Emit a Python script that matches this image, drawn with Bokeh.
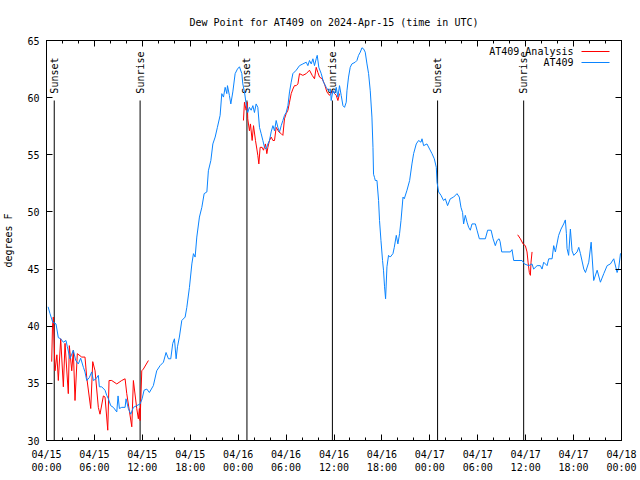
import numpy as np
from bokeh.plotting import figure
from bokeh.models import (FixedTicker, LinearAxis, Range1d, Label, Arrow,
                          ColumnDataSource, CustomJSTickFormatter)
from bokeh.core.properties import value
from bokeh.embed import file_html
from bokeh.resources import INLINE

FONT = "DejaVu Sans Mono"

# ---------------- data (hours since 2024-04-15 00:00 UTC, degrees F) -------------
at409_hours = [0.2, 0.44, 0.78, 1.19, 1.48, 1.78, 2.11, 2.44, 2.61, 2.94, 3.36, 3.66, 3.98,
               4.28, 4.62, 4.82, 5.04, 5.36, 5.66, 5.87, 6.2, 6.49, 6.62, 6.91, 7.33, 7.54,
               7.75, 8.04, 8.37, 8.8, 8.96, 9.13, 9.42, 9.84, 9.96, 10.25, 10.55, 10.88,
               11.3, 11.72, 11.97, 12.22, 12.56, 12.88,
               13.38, 13.8, 14.22, 14.64, 14.97, 15.27, 15.56, 15.81, 16.02, 16.23, 16.4,
               16.64, 16.94, 17.36, 17.57, 17.9, 18.2, 18.4, 18.61, 18.82, 19.15, 19.45,
               19.74, 20.08, 20.27, 20.58, 20.83, 21.12, 21.4, 21.74, 21.95, 22.16, 22.37,
               22.58, 22.66, 22.9, 23.08, 23.33, 23.62, 23.91, 24.16, 24.46,
               24.58, 24.79, 25.0, 25.2, 25.4, 25.63, 25.84, 26.04, 26.25, 26.46, 26.67,
               26.88, 27.09, 27.3, 27.5, 27.72, 27.92, 28.13, 28.35, 28.55, 28.76, 28.97,
               29.18, 29.39, 29.6, 29.8, 30.01, 30.23, 30.43, 30.64, 30.85, 31.27, 31.68,
               32.1, 32.52, 32.73, 32.93, 33.15, 33.36, 33.56, 33.77, 33.9, 34.1, 34.4,
               34.69, 35.03, 35.31, 35.56, 35.65, 35.86, 36.07, 36.28, 36.49, 36.69, 36.9,
               37.12, 37.32, 37.53,
               37.62, 37.82, 38.03, 38.24, 38.66, 38.87, 39.07, 39.29, 39.5, 39.7, 39.91,
               40.13, 40.33, 40.54, 40.75, 40.88, 40.95, 41.08, 41.17, 41.38, 41.58, 41.7,
               41.88, 42.08, 42.2, 42.33, 42.46, 42.63, 42.83, 43.04, 43.38, 43.55, 43.8,
               44.0, 44.21, 44.39, 44.64, 44.8, 45.14, 45.47, 45.76, 45.97, 46.3, 46.59,
               46.89, 47.02, 47.22, 47.64, 47.97,
               48.27, 48.56, 48.81, 48.9, 49.1, 49.4, 49.72, 49.94, 50.22, 50.56, 50.98,
               51.4, 51.69, 51.9, 52.1, 52.23, 52.44, 52.66, 52.86, 53.07, 53.28, 53.7,
               53.91, 54.2, 54.95, 55.24, 55.67, 55.92, 56.2, 56.42, 56.67,
               56.8, 57.0, 58.08, 58.29, 58.5, 59.55, 59.84, 60.38, 60.8, 61.0, 61.43,
               61.84, 62.05, 62.26, 62.68, 62.89, 63.31, 63.51, 63.72, 64.13, 64.43,
               64.76, 64.97, 65.1, 65.18, 65.38, 65.6, 65.81, 66.02, 66.44, 66.65, 66.86,
               67.28, 67.49, 67.9, 68.2, 68.52, 68.95, 69.36, 69.78, 70.2, 70.61, 71.03,
               71.45, 71.66, 71.87, 72.0]
at409_dewpt = [41.7, 41.1, 40.35, 40.2, 39.0, 38.9, 38.6, 38.75, 38.2, 37.15, 37.9, 37.0, 36.7,
               37.2, 36.4, 36.0, 35.25, 35.5, 36.0, 35.25, 35.4, 35.7, 34.7, 34.7, 34.4, 33.95,
               33.65, 33.05, 32.9, 32.5, 33.9, 32.8, 32.9, 32.9, 33.65, 32.8, 32.3, 32.9,
               33.05, 33.2, 33.65, 34.4, 34.5, 34.2,
               34.8, 36.1, 36.55, 36.85, 37.7, 37.15, 37.15, 38.5, 38.9, 37.15, 38.2,
               39.05, 40.5, 40.8, 41.65, 43.4, 45.45, 46.35, 46.05, 47.8, 49.55, 50.4,
               51.6, 51.75, 53.6, 54.5, 55.95, 56.55, 57.4, 58.45, 60.35, 60.05, 60.9,
               60.35, 61.05, 60.2, 59.45, 60.5, 62.1, 62.5, 62.7, 62.1,
               61.2, 60.5, 59.45, 58.7, 59.15, 58.9, 59.3, 58.7, 59.45, 59.15, 57.4,
               56.85, 56.25, 55.65, 55.5, 55.95, 56.25, 57.0, 57.55, 57.1, 58.0, 57.4,
               57.0, 57.55, 58.0, 58.45, 58.7, 59.3, 60.5, 61.35, 62.1, 62.4, 62.8,
               62.95, 63.1, 62.8, 63.25, 62.95, 63.4, 62.8, 63.4, 63.7, 62.65, 62.1,
               61.35, 60.9, 60.6, 60.75, 59.75, 60.6, 60.35, 60.9, 60.05, 61.05, 60.2,
               59.3, 59.15, 59.6,
               60.6, 61.8, 62.65, 62.95, 63.1, 63.25, 63.7, 63.98, 64.36, 64.27, 63.98,
               62.95, 62.1, 60.6, 58.3, 55.65, 53.3, 53.0, 52.75, 52.75, 51.0, 49.25,
               47.5, 45.75, 44.9, 43.45, 42.4, 45.2, 46.2, 46.05, 46.35, 46.9, 47.95,
               47.2, 48.1, 49.25, 51.3, 51.15, 51.9, 52.75, 54.2, 55.1, 55.95, 56.25,
               56.1, 56.4, 55.8, 55.95, 55.5,
               55.1, 54.65, 53.9, 52.6, 51.75, 51.45, 51.0, 51.15, 50.55, 51.15, 51.3,
               51.6, 51.3, 50.4, 49.95, 48.95, 49.7, 49.1, 48.65, 48.4, 48.95, 48.95,
               48.4, 47.65, 47.65, 48.4, 48.4, 47.65, 47.05, 47.5, 47.65,
               47.4, 46.5, 46.5, 46.7, 45.75, 45.75, 45.45, 45.3, 45.45, 45.0, 45.3,
               45.3, 45.0, 45.6, 45.3, 45.9, 45.9, 47.05, 46.5, 47.95, 48.5,
               48.95, 49.3, 48.1, 46.8, 46.2, 48.5, 46.6, 46.2, 46.5, 46.9, 46.35,
               45.0, 44.7, 45.6, 47.35, 44.0, 44.9, 43.85, 44.6, 45.3, 45.45, 45.9,
               44.7, 45.15, 46.35, 46.4]

analysis_hours_1 = [0.65, 0.75, 0.85, 1.07, 1.3, 1.48, 1.78, 2.11, 2.32, 2.73, 2.86, 3.16,
                    3.36, 3.57, 3.86, 4.41, 4.82, 5.04, 5.54, 5.79, 6.08, 6.49, 6.7, 7.12,
                    7.33, 7.67, 7.83, 8.17, 8.8, 9.42, 9.84, 10.05, 10.68, 10.88, 11.3, 11.5,
                    11.63, 11.72, 11.93, 12.13, 12.76]
analysis_dewpt_1 = [36.9, 40.0, 40.8, 36.1, 37.5, 35.25, 38.9, 34.7, 38.5, 34.1, 38.3, 36.1,
                    37.9, 33.5, 37.6, 37.3, 37.3, 35.5, 32.8, 36.9, 36.1, 32.9, 32.3, 33.9,
                    33.8, 30.9, 35.25, 35.25, 34.95, 35.25, 35.4, 34.1, 31.2, 35.25, 32.8, 31.9,
                    32.8, 31.75, 36.1, 36.25, 37.0]
analysis_hours_2 = [24.66, 24.79, 25.0, 25.13, 25.2, 25.41, 25.54, 25.75, 25.92, 26.17, 26.34,
                    26.46, 26.59, 26.75, 27.0, 27.17, 27.42, 27.59, 27.72, 27.92, 28.13, 28.35,
                    28.55, 28.76, 29.1, 29.39, 29.6, 29.8, 30.01, 30.23, 30.43, 30.64, 30.85,
                    31.05, 31.27, 31.48, 31.68, 32.1, 32.52, 32.93, 33.27, 33.56, 33.77, 33.98,
                    34.19, 34.52, 34.81, 35.11, 35.44, 35.86, 36.07, 36.28, 36.49, 36.69]
analysis_dewpt_2 = [58.0, 59.6, 58.9, 59.6, 58.15, 57.1, 57.7, 56.25, 57.55, 56.25, 55.5,
                    54.95, 54.2, 55.65, 55.65, 55.4, 55.95, 55.1, 55.65, 56.25, 56.55, 56.25,
                    56.25, 57.4, 57.0, 56.85, 56.7, 58.15, 58.6, 58.9, 59.6, 60.35, 60.75,
                    61.05, 61.05, 61.2, 62.1, 61.95, 62.1, 62.4, 61.95, 61.65, 62.65, 62.2,
                    61.8, 61.65, 61.2, 60.5, 60.2, 60.6, 60.35, 60.2, 59.75, 60.35]
analysis_hours_3 = [59.0, 59.34, 59.67, 59.96, 60.17, 60.3, 60.46, 60.59, 60.67, 60.8]
analysis_dewpt_3 = [48.0, 47.65, 47.2, 47.05, 46.5, 45.6, 44.7, 44.45, 45.6, 46.5]

sun_hours = [0.97, 11.72, 25.1, 35.8, 48.97, 59.75]
sun_names = ["Sunset", "Sunrise", "Sunset", "Sunrise", "Sunset", "Sunrise"]

series_names = ["AT409 Analysis", "AT409"]

x_ticks = [0, 6, 12, 18, 24, 30, 36, 42, 48, 54, 60, 66, 72]
x_tick_labels = ["04/15\n00:00", "04/15\n06:00", "04/15\n12:00", "04/15\n18:00",
                 "04/16\n00:00", "04/16\n06:00", "04/16\n12:00", "04/16\n18:00",
                 "04/17\n00:00", "04/17\n06:00", "04/17\n12:00", "04/17\n18:00",
                 "04/18\n00:00"]
x_minor = list(range(0, 73, 2))
y_ticks = [30, 35, 40, 45, 50, 55, 60, 65]

TITLE = "Dew Point for AT409 on 2024-Apr-15 (time in UTC)"
RED = "#ff0000"
BLUE = "#0a84ff"

# ---------------- figure -------------
p = figure(width=640, height=480, output_backend="svg", toolbar_location=None,
           x_range=Range1d(0, 72), y_range=Range1d(30, 65),
           min_border_left=46, min_border_right=19, min_border_top=40,
           min_border_bottom=40, background_fill_color="white",
           border_fill_color="white")
p.title.text = TITLE
p.title.align = "center"
p.title.text_font = FONT
p.title.text_font_size = "10px"
p.title.text_font_style = "normal"
p.title.text_color = "black"
p.title.standoff = 25
p.xgrid.visible = False
p.ygrid.visible = False
p.outline_line_color = "black"
p.outline_line_alpha = 1.0
p.outline_line_width = 1

xt = FixedTicker(ticks=x_ticks, minor_ticks=x_minor)
yt = FixedTicker(ticks=y_ticks, minor_ticks=[])


def style_axis(ax):
    ax.axis_line_color = "black"
    ax.major_tick_line_color = "black"
    ax.minor_tick_line_color = "black"
    ax.major_tick_in = 6
    ax.major_tick_out = 0
    ax.minor_tick_in = 3
    ax.minor_tick_out = 0
    ax.major_label_text_font = FONT
    ax.major_label_text_font_size = "10px"
    ax.major_label_text_color = "black"


p.xaxis.ticker = xt
p.xaxis.major_label_overrides = {t: l for t, l in zip(x_ticks, x_tick_labels)}
style_axis(p.xaxis[0])
p.xaxis.major_label_standoff = 8

p.yaxis.ticker = yt
style_axis(p.yaxis[0])
p.yaxis.major_label_standoff = 7
p.yaxis.axis_label = "degrees F"
p.yaxis.axis_label_text_font = FONT
p.yaxis.axis_label_text_font_size = "10px"
p.yaxis.axis_label_text_font_style = "normal"
p.yaxis.axis_label_text_color = "black"
p.yaxis.axis_label_standoff = 10

blank = CustomJSTickFormatter(code="return '';")
top = LinearAxis(ticker=xt, formatter=blank)
style_axis(top)
p.add_layout(top, "above")
right = LinearAxis(ticker=yt, formatter=blank)
style_axis(right)
p.add_layout(right, "right")

# sunrise / sunset markers
sun_src = ColumnDataSource(dict(hours=sun_hours, names=sun_names))
p.segment(x0="hours", y0=30, x1="hours", y1=59.75, source=sun_src,
          line_color="black", line_width=1)
p.text(x="hours", y=60.35, text="names", source=sun_src, angle=np.pi / 2,
       text_font=value(FONT), text_font_size="10px", text_color="black",
       text_align="left", text_baseline="middle", x_offset=0)

# series
p.line(analysis_hours_1, analysis_dewpt_1, line_color=RED, line_width=1)
p.line(analysis_hours_2, analysis_dewpt_2, line_color=RED, line_width=1)
p.line(analysis_hours_3, analysis_dewpt_3, line_color=RED, line_width=1)
p.line(at409_hours, at409_dewpt, line_color=BLUE, line_width=1)

# gnuplot-style key: right-aligned text with the line sample to its right
for name, color, ky in zip(series_names, [RED, BLUE], [389, 378]):
    p.add_layout(Label(x=527, y=ky, x_units="screen", y_units="screen", text=name,
                       text_font=FONT, text_font_size="10px", text_color="black",
                       text_align="right", text_baseline="middle"))
    p.add_layout(Arrow(x_start=535, y_start=ky, x_end=563, y_end=ky,
                       start_units="screen", end_units="screen", start=None, end=None,
                       line_color=color, line_width=1))

open("out.html", "w").write(file_html(p, INLINE))
